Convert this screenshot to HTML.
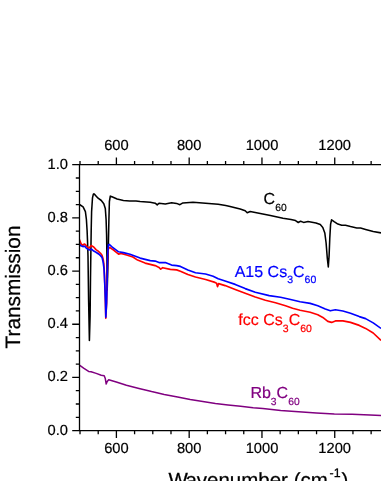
<!DOCTYPE html>
<html><head><meta charset="utf-8"><title>Transmission spectra</title>
<style>
html,body{margin:0;padding:0;background:#fff;}
body{width:381px;height:481px;overflow:hidden;}
svg{display:block;will-change:transform;text-rendering:geometricPrecision;font-family:"Liberation Sans",sans-serif;}
</style></head><body>
<svg width="381" height="481" viewBox="0 0 381 481">
<defs><clipPath id="cp"><rect x="79.20" y="164.70" width="320" height="265.90"/></clipPath></defs>
<rect width="381" height="481" fill="#fff"/>
<g clip-path="url(#cp)">
<polyline fill="none" stroke="#000" stroke-width="1.55" stroke-linejoin="round" stroke-linecap="butt" points="79.0,204.4 79.5,204.5 83.1,206.9 85.4,211.6 86.4,219.5 87.1,230.5 87.6,243.0 88.0,256.0 88.6,300.0 89.4,340.5 90.1,316.0 90.5,278.0 90.9,250.0 91.2,230.0 91.6,211.6 92.5,197.8 93.3,194.3 93.9,193.7 95.1,194.9 98.1,198.2 101.3,200.5 103.8,203.7 105.3,208.4 106.1,219.5 106.6,235.0 106.9,256.0 107.0,280.0 107.2,290.0 107.5,280.0 108.4,243.0 108.9,219.5 109.4,201.5 110.3,196.1 112.0,196.8 117.1,199.0 123.4,200.5 129.7,200.9 136.0,200.9 140.1,201.4 150.2,202.2 155.2,203.2 157.2,204.9 159.0,203.2 165.3,203.9 171.6,202.7 176.6,203.4 179.9,204.7 182.9,202.9 193.0,202.2 205.6,203.2 218.2,204.2 225.7,205.6 230.1,206.4 240.2,209.0 245.2,210.7 247.2,212.7 250.2,211.5 260.3,213.4 270.4,215.6 283.0,218.2 291.0,219.6 295.5,220.6 298.3,222.5 300.6,221.2 303.6,222.4 308.0,221.6 316.0,223.0 320.3,224.6 322.8,227.4 324.8,232.9 326.1,243.0 327.3,258.1 328.3,266.9 329.1,255.6 329.8,237.9 330.6,224.1 331.6,219.8 334.1,221.6 337.9,224.1 341.7,225.3 345.5,225.3 350.5,226.6 356.8,227.9 360.6,227.9 365.6,229.4 373.2,231.6 381.0,232.9"/>
<polyline fill="none" stroke="#f00" stroke-width="1.65" stroke-linejoin="round" stroke-linecap="butt" points="79.0,238.8 79.5,239.9 81.0,243.6 82.5,245.5 84.4,244.0 85.5,244.7 87.4,247.3 89.2,248.1 91.1,245.5 93.7,247.0 96.0,249.6 98.2,251.1 100.5,253.3 102.0,255.2 103.1,258.9 103.8,263.4 104.5,275.0 105.2,295.0 105.8,318.3 106.6,303.0 107.2,279.5 107.6,258.0 108.4,247.9 110.0,247.6 113.9,250.3 118.6,254.2 121.0,253.4 126.6,255.0 132.9,257.0 137.6,260.1 145.1,263.1 155.2,265.6 159.0,267.4 160.7,269.2 162.7,267.7 170.3,269.4 176.6,269.9 180.4,271.2 187.9,274.5 195.5,277.0 205.6,279.5 215.0,282.4 216.6,283.2 217.5,286.6 218.6,283.6 225.1,285.6 235.2,289.4 245.2,293.2 255.3,297.0 265.4,300.2 275.5,302.7 285.5,305.8 292.6,308.3 300.1,310.3 310.2,312.3 317.8,314.8 322.8,317.4 327.8,321.4 331.6,322.4 335.4,320.9 342.9,320.9 350.5,322.4 359.3,325.4 365.6,328.4 373.2,333.0 381.0,340.5"/>
<polyline fill="none" stroke="#00f" stroke-width="1.65" stroke-linejoin="round" stroke-linecap="butt" points="79.0,243.8 81.0,245.8 82.9,246.6 84.7,246.2 86.2,248.1 89.2,250.0 91.5,249.2 93.7,251.1 96.0,252.2 98.2,253.7 100.5,255.6 102.0,257.4 103.1,261.9 104.1,269.5 104.9,287.4 105.5,303.0 105.8,317.2 106.6,303.0 107.2,279.5 107.6,255.8 108.4,244.7 109.2,244.4 112.3,247.1 118.6,251.8 123.4,252.6 130.0,254.2 140.1,258.1 150.2,260.6 155.2,261.1 159.0,262.6 165.3,262.6 171.6,265.1 176.6,265.6 180.4,266.4 187.9,269.9 195.5,272.7 205.6,274.0 213.1,276.2 218.2,278.7 225.1,281.0 235.2,284.4 245.2,288.6 255.3,292.2 269.2,295.6 280.5,297.2 290.6,299.5 300.1,301.7 310.2,303.4 317.8,305.8 325.3,309.0 330.3,310.8 335.4,309.8 342.9,311.0 350.5,313.3 359.3,316.6 365.6,318.6 373.2,322.9 381.0,328.4"/>
<polyline fill="none" stroke="#800080" stroke-width="1.5" stroke-linejoin="round" stroke-linecap="butt" points="79.0,364.7 79.5,365.1 83.6,368.1 88.6,371.4 91.1,371.7 96.2,373.4 101.2,375.2 104.2,375.7 105.2,378.2 106.2,384.0 107.2,381.5 108.7,379.7 116.3,382.0 126.4,385.3 139.0,388.5 151.6,391.6 164.2,394.4 177.6,396.9 190.2,399.6 202.8,401.6 215.4,403.4 228.0,404.9 240.6,406.2 253.2,407.7 262.9,408.6 280.7,410.4 298.6,411.8 316.4,412.9 334.3,413.9 352.1,414.3 370.0,415.0 381.0,415.4"/>
</g>
<path d="M79.50 164.05V431.25M78.85 164.70H382M78.85 430.60H382M80.01 164.70v-3.70M80.01 430.60v3.70M98.21 164.70v-3.70M98.21 430.60v3.70M116.40 164.70v-7.30M116.40 430.60v7.30M134.59 164.70v-3.70M134.59 430.60v3.70M152.79 164.70v-3.70M152.79 430.60v3.70M170.99 164.70v-3.70M170.99 430.60v3.70M189.18 164.70v-7.30M189.18 430.60v7.30M207.38 164.70v-3.70M207.38 430.60v3.70M225.57 164.70v-3.70M225.57 430.60v3.70M243.76 164.70v-3.70M243.76 430.60v3.70M261.96 164.70v-7.30M261.96 430.60v7.30M280.15 164.70v-3.70M280.15 430.60v3.70M298.35 164.70v-3.70M298.35 430.60v3.70M316.55 164.70v-3.70M316.55 430.60v3.70M334.74 164.70v-7.30M334.74 430.60v7.30M352.94 164.70v-3.70M352.94 430.60v3.70M371.13 164.70v-3.70M371.13 430.60v3.70M389.33 164.70v-3.70M389.33 430.60v3.70M407.52 164.70v-7.30M407.52 430.60v7.30M79.50 430.60h-7.30M79.50 417.31h-3.70M79.50 404.01h-3.70M79.50 390.72h-3.70M79.50 377.42h-7.30M79.50 364.12h-3.70M79.50 350.83h-3.70M79.50 337.53h-3.70M79.50 324.24h-7.30M79.50 310.94h-3.70M79.50 297.65h-3.70M79.50 284.36h-3.70M79.50 271.06h-7.30M79.50 257.76h-3.70M79.50 244.47h-3.70M79.50 231.18h-3.70M79.50 217.88h-7.30M79.50 204.58h-3.70M79.50 191.29h-3.70M79.50 177.99h-3.70M79.50 164.70h-7.30" fill="none" stroke="#000" stroke-width="1.3"/>
<g font-size="14.7" fill="#000" stroke="#000" stroke-width="0.2"><text x="116.4" y="150.45" text-anchor="middle">600</text><text x="116.4" y="453.35" text-anchor="middle">600</text><text x="189.2" y="150.45" text-anchor="middle">800</text><text x="189.2" y="453.35" text-anchor="middle">800</text><text x="262.0" y="150.45" text-anchor="middle">1000</text><text x="262.0" y="453.35" text-anchor="middle">1000</text><text x="334.7" y="150.45" text-anchor="middle">1200</text><text x="334.7" y="453.35" text-anchor="middle">1200</text><text x="407.5" y="150.45" text-anchor="middle">1400</text><text x="407.5" y="453.35" text-anchor="middle">1400</text><text x="67.9" y="434.5" text-anchor="end">0.0</text><text x="67.9" y="381.3" text-anchor="end">0.2</text><text x="67.9" y="328.1" text-anchor="end">0.4</text><text x="67.9" y="275.0" text-anchor="end">0.6</text><text x="67.9" y="221.8" text-anchor="end">0.8</text><text x="67.9" y="168.6" text-anchor="end">1.0</text></g>
<text transform="translate(20.2,348.4) rotate(-90)" font-size="20.8" stroke="#000" stroke-width="0.25">Transmission</text>
<text x="168.5" y="487.3" font-size="20.5" stroke="#000" stroke-width="0.25">W<tspan dx="-1.7">avenumber (cm</tspan><tspan font-size="12.4" dy="-10.7" dx="1.7">-1</tspan><tspan dy="10.7" dx="0.9">)</tspan></text>
<text x="263.6" y="204.4" fill="#000" stroke="#000" stroke-width="0.2" font-size="16"><tspan>C</tspan><tspan font-size="10.3" dy="7.0">60</tspan><tspan dy="-7.0" font-size="0.1"> </tspan></text>
<text x="234.7" y="276.8" fill="#00f" stroke="#00f" stroke-width="0.2" font-size="16"><tspan>A15 Cs</tspan><tspan font-size="10.5" dy="6.2">3</tspan><tspan dy="-6.2" font-size="0.1"> </tspan><tspan>C</tspan><tspan font-size="10.5" dy="6.2">60</tspan><tspan dy="-6.2" font-size="0.1"> </tspan></text>
<text x="238.3" y="325.3" fill="#f00" stroke="#f00" stroke-width="0.2" font-size="16"><tspan>fcc Cs</tspan><tspan font-size="10.5" dy="6.2">3</tspan><tspan dy="-6.2" font-size="0.1"> </tspan><tspan>C</tspan><tspan font-size="10.5" dy="6.2">60</tspan><tspan dy="-6.2" font-size="0.1"> </tspan></text>
<text x="250.4" y="398.2" fill="#800080" stroke="#800080" stroke-width="0.2" font-size="16"><tspan>Rb</tspan><tspan font-size="10.3" dy="7">3</tspan><tspan dy="-7" font-size="0.1"> </tspan><tspan>C</tspan><tspan font-size="10.3" dy="7">60</tspan><tspan dy="-7" font-size="0.1"> </tspan></text>
</svg>
</body></html>
